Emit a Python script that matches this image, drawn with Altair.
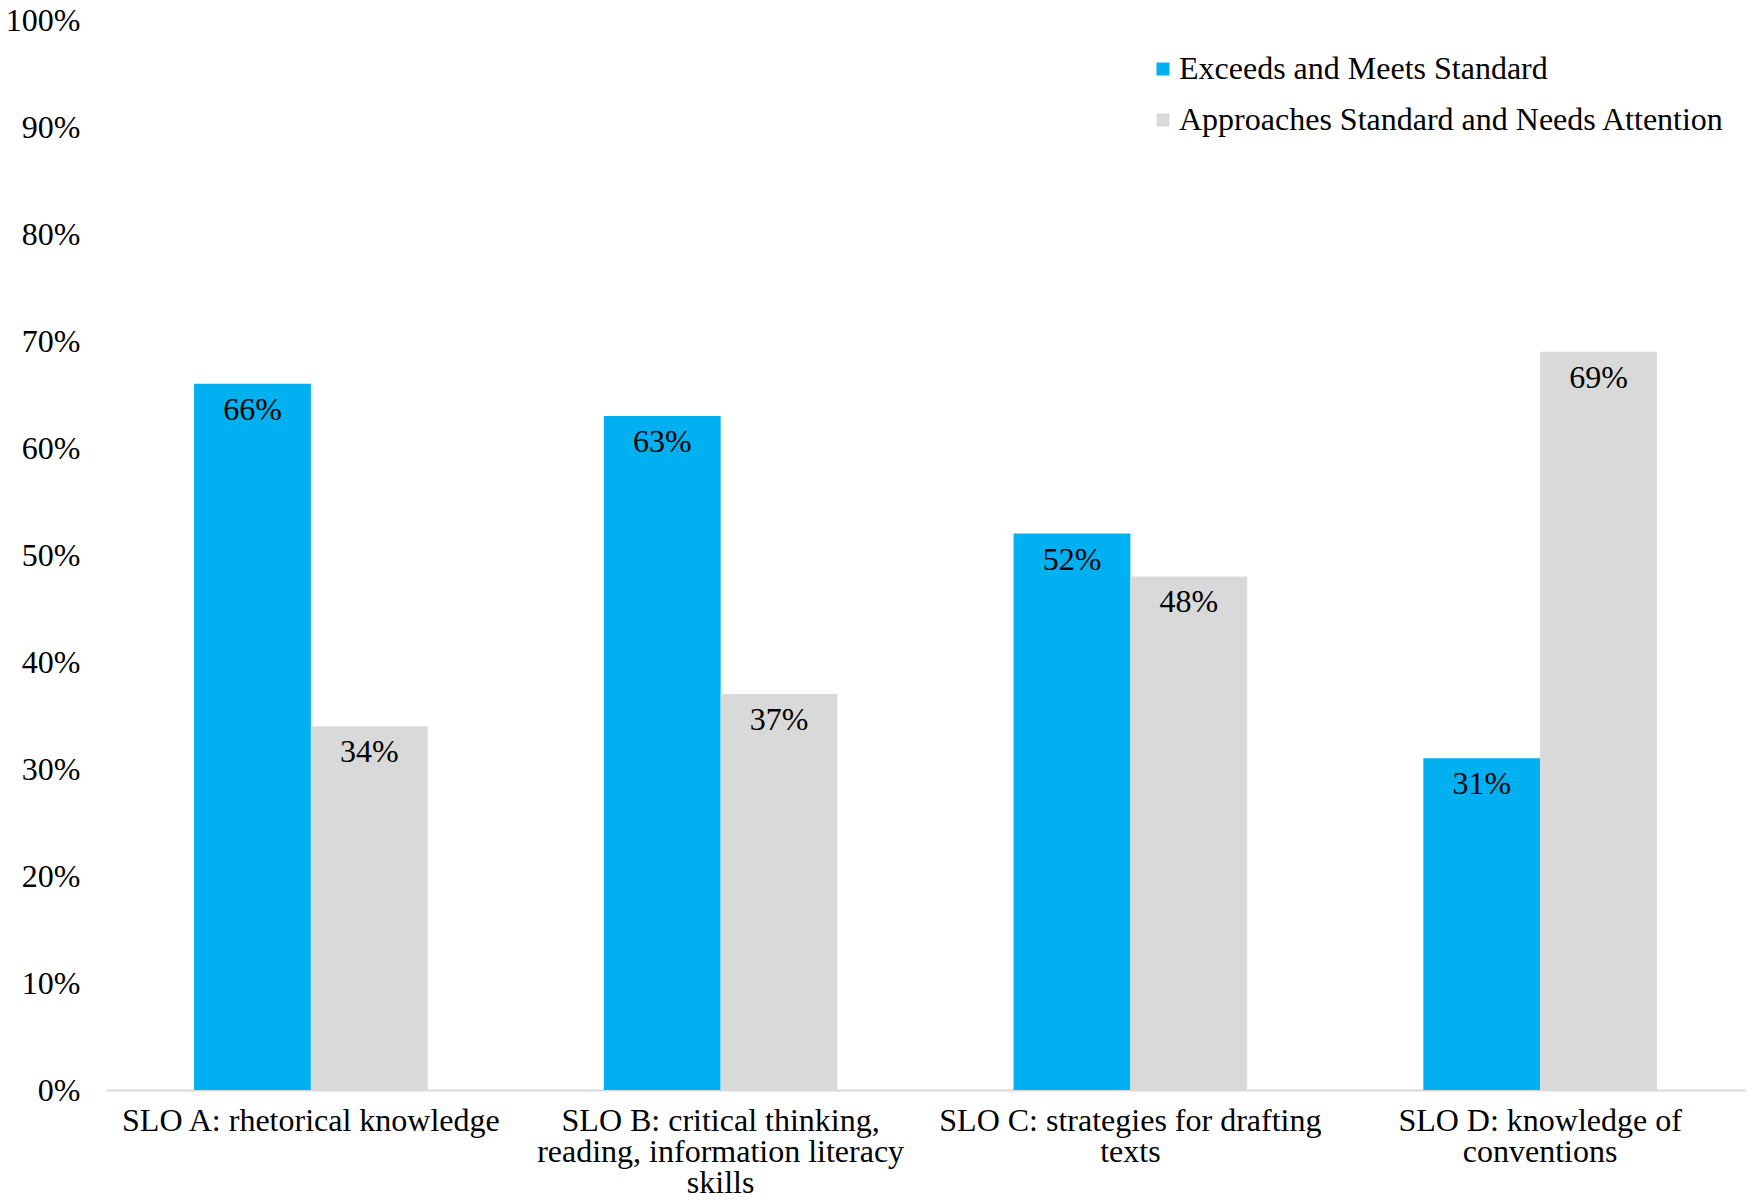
import altair as alt
import pandas as pd

categories = [
    "SLO A: rhetorical knowledge",
    "SLO B: critical thinking,|reading, information literacy|skills",
    "SLO C: strategies for drafting|texts",
    "SLO D: knowledge of|conventions",
]
series = ["Exceeds and Meets Standard", "Approaches Standard and Needs Attention"]
exceeds = [0.66, 0.63, 0.52, 0.31]
approaches = [0.34, 0.37, 0.48, 0.69]
colors = ["#00B0F0", "#D9D9D9"]

rows = []
for c, e, a in zip(categories, exceeds, approaches):
    rows.append({"cat": c, "series": series[0], "value": e})
    rows.append({"cat": c, "series": series[1], "value": a})
df = pd.DataFrame(rows)

FONT = "Liberation Serif"
FS = 32

x = alt.X(
    "cat:N",
    sort=categories,
    title=None,
    scale=alt.Scale(paddingInner=0.43, paddingOuter=0.215),
    axis=alt.Axis(
        labelAngle=0,
        labelExpr="split(datum.label, '|')",
        labelFont=FONT,
        labelFontSize=FS,
        labelColor="#000000",
        labelLimit=800,
        labelPadding=15,
        labelBaseline="top",
        labelLineHeight=31,
        ticks=False,
        domainColor="#D9D9D9",
        domainWidth=2,
    ),
)
xoff = alt.XOffset("series:N", sort=series, scale=alt.Scale(paddingInner=0, paddingOuter=0))
y = alt.Y(
    "value:Q",
    title=None,
    scale=alt.Scale(domain=[0, 1]),
    axis=alt.Axis(
        values=[i / 10 for i in range(11)],
        format=".0%",
        labelFont=FONT,
        labelFontSize=FS,
        labelColor="#000000",
        labelPadding=26,
        ticks=False,
        domain=False,
        grid=False,
    ),
)

bars = alt.Chart(df).mark_bar().encode(
    x=x,
    xOffset=xoff,
    y=y,
    color=alt.Color(
        "series:N",
        sort=series,
        scale=alt.Scale(domain=series, range=colors),
        legend=alt.Legend(
            title=None,
            orient="none",
            legendX=1041,
            legendY=33,
            symbolType="square",
            symbolSize=169,
            symbolStrokeWidth=0,
            labelFont=FONT,
            labelFontSize=FS,
            labelColor="#000000",
            labelOffset=0,
            rowPadding=19,
            labelLimit=800,
        ),
    ),
)

text = alt.Chart(df).mark_text(
    font=FONT, fontSize=FS, color="#000000", baseline="middle", dy=26
).encode(
    x=x,
    xOffset=xoff,
    y=y,
    text=alt.Text("value:Q", format=".0%"),
)

chart = (
    alt.layer(bars, text)
    .properties(
        width=1639,
        height=1070,
        background="#FFFFFF",
        autosize=alt.AutoSizeParams(type="none"),
        padding={"left": 98, "top": 12, "right": 2, "bottom": 104},
    )
    .configure_view(stroke=None, strokeWidth=0)
)

chart.save("out.html", embed_options={"renderer": "svg", "actions": False})
